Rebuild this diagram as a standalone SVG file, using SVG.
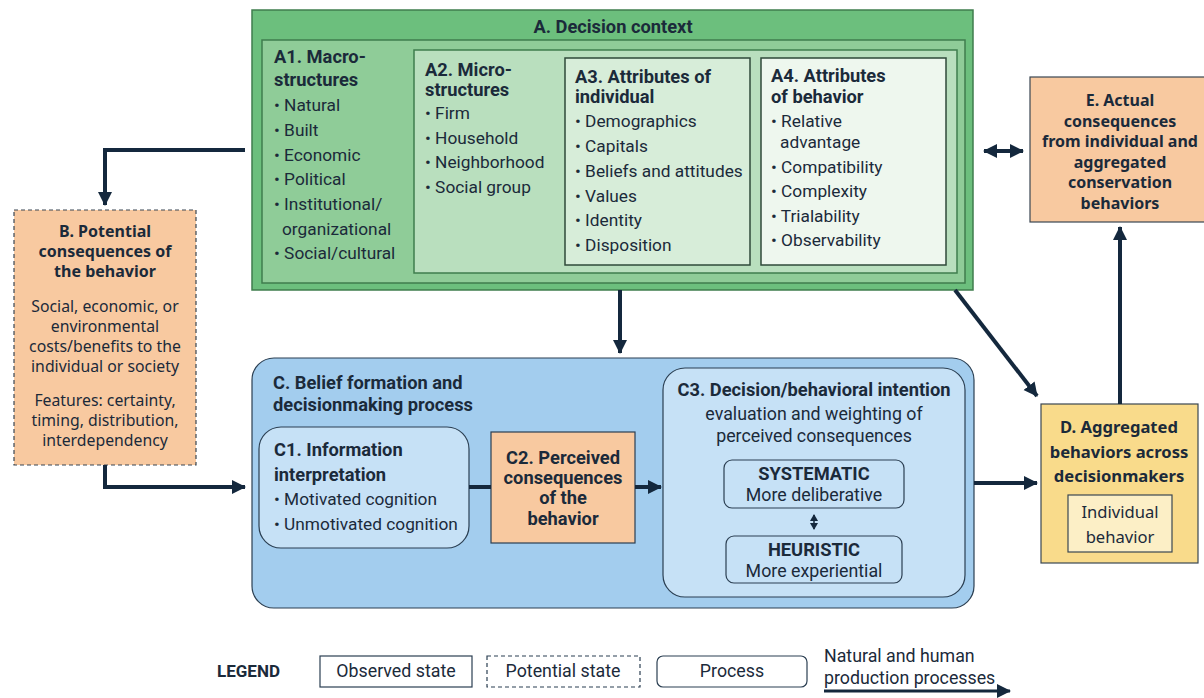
<svg xmlns="http://www.w3.org/2000/svg" width="1204" height="698" viewBox="0 0 1204 698">
<defs>
<marker id="ah" markerUnits="userSpaceOnUse" markerWidth="16" markerHeight="16" refX="13" refY="8" orient="auto">
<path d="M0,1 L14,8 L0,15 Z" fill="#14283d"/>
</marker>
<marker id="ahs" markerUnits="userSpaceOnUse" markerWidth="8" markerHeight="8" refX="6" refY="4" orient="auto-start-reverse">
<path d="M0,0 L7,4 L0,8 Z" fill="#14283d"/>
</marker>
<marker id="ahd" markerUnits="userSpaceOnUse" markerWidth="16" markerHeight="16" refX="13" refY="8" orient="auto-start-reverse">
<path d="M0,1 L14,8 L0,15 Z" fill="#14283d"/>
</marker>
</defs>
<style>
text{font-family:Roboto,"Liberation Sans",sans-serif;fill:#1b2a3a;font-size:17.3px}
.b{font-weight:bold;font-size:18.3px}
.c{text-anchor:middle}
.r{font-size:17.8px}
.w{font-family:"Noto Sans","Open Sans",sans-serif;font-size:15.8px}
.wb{font-family:"Noto Sans","Open Sans",sans-serif;font-size:16px;font-weight:bold}
</style>
<rect width="1204" height="698" fill="#ffffff"/>

<g id="A">
<rect x="252" y="10" width="721" height="280" fill="#6cbf7d" stroke="#3f7d4d" stroke-width="1.5"/>
<text x="613" y="33" class="b c">A. Decision context</text>
<rect x="262" y="40" width="703" height="243" fill="#8fcc98" stroke="#3f7d4d" stroke-width="1.5"/>
</g>
<g id="A1">
<text x="274" y="63" class="b">A1. Macro-</text>
<text x="274" y="86" class="b">structures</text>
<text x="274" y="111">• Natural</text>
<text x="274" y="136">• Built</text>
<text x="274" y="161">• Economic</text>
<text x="274" y="185">• Political</text>
<text x="274" y="210">• Institutional/</text>
<text x="282" y="235">organizational</text>
<text x="274" y="259">• Social/cultural</text>
</g>
<g id="A2">
<rect x="414" y="50" width="543" height="223" fill="#b9dfbe" stroke="#3f7d4d" stroke-width="1.5"/>
<text x="425" y="76" class="b">A2. Micro-</text>
<text x="425" y="96" class="b">structures</text>
<text x="425" y="119">• Firm</text>
<text x="425" y="144">• Household</text>
<text x="425" y="168">• Neighborhood</text>
<text x="425" y="193">• Social group</text>
</g>
<g id="A3">
<rect x="565" y="58" width="185" height="207" fill="#d7edd9" stroke="#2f4a3a" stroke-width="1.5"/>
<text x="575" y="83" class="b">A3. Attributes of</text>
<text x="575" y="103" class="b">individual</text>
<text x="575" y="127">• Demographics</text>
<text x="575" y="152">• Capitals</text>
<text x="575" y="177">• Beliefs and attitudes</text>
<text x="575" y="202">• Values</text>
<text x="575" y="226">• Identity</text>
<text x="575" y="251">• Disposition</text>
</g>
<g id="A4">
<rect x="761" y="58" width="185" height="207" fill="#eef7ee" stroke="#2f4a3a" stroke-width="1.5"/>
<text x="771" y="82" class="b">A4. Attributes</text>
<text x="771" y="103" class="b">of behavior</text>
<text x="771" y="127">• Relative</text>
<text x="780" y="148">advantage</text>
<text x="771" y="173">• Compatibility</text>
<text x="771" y="197">• Complexity</text>
<text x="771" y="222">• Trialability</text>
<text x="771" y="246">• Observability</text>
</g>

<g id="B">
<rect x="14" y="210" width="182" height="255" fill="#f8c9a0" stroke="#3a4652" stroke-width="1.2" stroke-dasharray="4,3"/>
<text x="105" y="237" class="wb c">B. Potential</text>
<text x="105" y="257" class="wb c">consequences of</text>
<text x="105" y="277" class="wb c">the behavior</text>
<text x="105" y="312" class="c w">Social, economic, or</text>
<text x="105" y="332" class="c w">environmental</text>
<text x="105" y="352" class="c w">costs/benefits to the</text>
<text x="105" y="372" class="c w">individual or society</text>
<text x="105" y="406" class="c w">Features: certainty,</text>
<text x="105" y="426" class="c w">timing, distribution,</text>
<text x="105" y="446" class="c w">interdependency</text>
</g>

<g id="E">
<rect x="1030" y="77" width="180" height="145" fill="#f8c9a0" stroke="#3a4652" stroke-width="1.2"/>
<text x="1120" y="106" class="wb c">E. Actual</text>
<text x="1120" y="127" class="wb c">consequences</text>
<text x="1120" y="147" class="wb c">from individual and</text>
<text x="1120" y="168" class="wb c">aggregated</text>
<text x="1120" y="188" class="wb c">conservation</text>
<text x="1120" y="209" class="wb c">behaviors</text>
</g>

<g id="D">
<rect x="1041" y="404" width="157" height="159" fill="#f9db8b" stroke="#3a4652" stroke-width="1.2"/>
<text x="1119" y="433" class="wb c" style="font-size:16.6px">D. Aggregated</text>
<text x="1119" y="458" class="wb c" style="font-size:16.6px">behaviors across</text>
<text x="1119" y="482" class="wb c" style="font-size:16.6px">decisionmakers</text>
<rect x="1068" y="495" width="104" height="57" fill="#fcefc6" stroke="#3a4652" stroke-width="1.2"/>
<text x="1120" y="518" class="c w" style="font-size:16.6px">Individual</text>
<text x="1120" y="543" class="c w" style="font-size:16.6px">behavior</text>
</g>

<g id="C">
<rect x="252" y="358" width="722" height="250" rx="22" fill="#a3cdee" stroke="#2b3f52" stroke-width="1.2"/>
<text x="273" y="389" class="b">C. Belief formation and</text>
<text x="273" y="411" class="b">decisionmaking process</text>
</g>
<g id="C1">
<rect x="259" y="427" width="210" height="121" rx="22" fill="#c6e1f6" stroke="#2b3f52" stroke-width="1.2"/>
<text x="274" y="456" class="b">C1. Information</text>
<text x="274" y="481" class="b">interpretation</text>
<text x="274" y="505">• Motivated cognition</text>
<text x="274" y="530">• Unmotivated cognition</text>
</g>
<g id="C2">
<rect x="491" y="432" width="144" height="111" fill="#f8c9a0" stroke="#2b3f52" stroke-width="1.2"/>
<text x="563" y="464" class="b c">C2. Perceived</text>
<text x="563" y="484" class="b c">consequences</text>
<text x="563" y="504" class="b c">of the</text>
<text x="563" y="525" class="b c">behavior</text>
</g>
<g id="C3">
<rect x="663" y="368" width="302" height="229" rx="22" fill="#c6e1f6" stroke="#2b3f52" stroke-width="1.2"/>
<text x="814" y="396" class="b c">C3. Decision/behavioral intention</text>
<text x="814" y="420" class="c r">evaluation and weighting of</text>
<text x="814" y="442" class="c r">perceived consequences</text>
<rect x="724" y="460" width="180" height="48" rx="8" fill="#c6e1f6" stroke="#2b3f52" stroke-width="1.2"/>
<text x="814" y="480" class="b c">SYSTEMATIC</text>
<text x="814" y="501" class="c r">More deliberative</text>
<rect x="726" y="536" width="176" height="47" rx="8" fill="#c6e1f6" stroke="#2b3f52" stroke-width="1.2"/>
<text x="814" y="556" class="b c">HEURISTIC</text>
<text x="814" y="577" class="c r">More experiential</text>
<line x1="814" y1="515" x2="814" y2="529" stroke="#14283d" stroke-width="1.5" marker-start="url(#ahs)" marker-end="url(#ahs)"/>
</g>

<g id="connectors" fill="none" stroke="#14283d" stroke-width="4">
<polyline points="245,150 105,150 105,205" marker-end="url(#ah)"/>
<polyline points="105,465 105,487 245,487" marker-end="url(#ah)"/>
<line x1="620" y1="290" x2="620" y2="353" marker-end="url(#ah)"/>
<line x1="955" y1="290" x2="1037" y2="396" marker-end="url(#ah)"/>
<line x1="469" y1="487" x2="491" y2="487"/>
<line x1="635" y1="487" x2="661" y2="487" marker-end="url(#ah)"/>
<line x1="974" y1="483" x2="1037" y2="483" marker-end="url(#ah)"/>
<line x1="1120" y1="404" x2="1120" y2="227" marker-end="url(#ah)"/>
<line x1="984" y1="151" x2="1023" y2="151" marker-start="url(#ahd)" marker-end="url(#ahd)"/>
</g>

<g id="legend">
<text x="217" y="677" class="b" style="font-size:17px">LEGEND</text>
<rect x="320" y="656" width="152" height="31" fill="#fff" stroke="#2b3f52" stroke-width="1.2"/>
<text x="396" y="677" class="c r">Observed state</text>
<rect x="487" y="656" width="153" height="31" fill="#fff" stroke="#2b3f52" stroke-width="1.2" stroke-dasharray="4,3"/>
<text x="563" y="677" class="c r">Potential state</text>
<rect x="657" y="656" width="150" height="31" rx="6" fill="#fff" stroke="#2b3f52" stroke-width="1.2"/>
<text x="732" y="677" class="c r">Process</text>
<text x="824" y="662" class="r">Natural and human</text>
<text x="824" y="684" class="r">production processes</text>
<line x1="824" y1="691" x2="1010" y2="691" stroke="#14283d" stroke-width="3" marker-end="url(#ah)"/>
</g>
</svg>
